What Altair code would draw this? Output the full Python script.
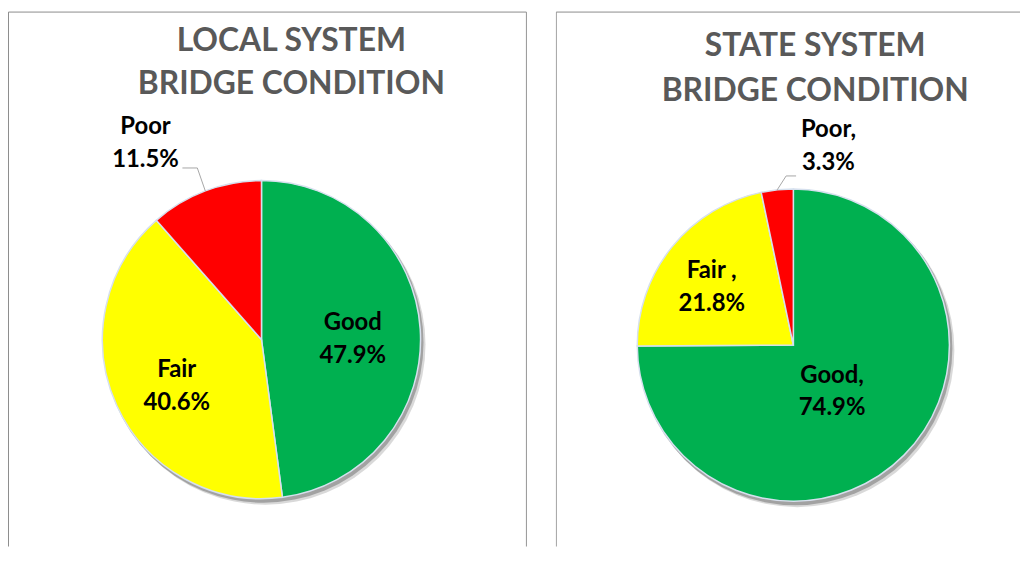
import altair as alt
import pandas as pd

categories = ["Good", "Fair", "Poor"]
local_values = [47.9, 40.6, 11.5]
state_values = [74.9, 21.8, 3.3]
local_labels = ["Good\n47.9%", "Fair\n40.6%", "Poor\n11.5%"]
state_labels = ["Good,\n74.9%", "Fair ,\n21.8%", "Poor,\n3.3%"]
colors = ["#00B050", "#FFFF00", "#FF0000"]
local_title = ["LOCAL SYSTEM", "BRIDGE CONDITION"]
state_title = ["STATE SYSTEM", "BRIDGE CONDITION"]

H = 540
FONT = "Lato"


def panel(values, labels, title, W, title_x, title_ys, cx, cy, R,
          label_specs, leader, show_right):
    df = pd.DataFrame({"cat": categories, "value": values,
                       "label": labels, "idx": list(range(len(categories)))})
    one = pd.DataFrame({"k": [0]})

    layers = []
    # panel border (bottom edge clipped away)
    layers.append(alt.Chart(one).mark_rect(
        filled=False, stroke="#8c8c8c", strokeWidth=1, clip=True).encode(
        x=alt.value(0.5), x2=alt.value(W - 0.5 if show_right else W + 20),
        y=alt.value(2.5), y2=alt.value(H + 30)))
    # soft shadow
    for off, op in [((4, 5), 0.15), ((2, 3), 0.25)]:
        layers.append(alt.Chart(one).mark_arc(
            theta=0, theta2=6.2832, radius=R + 1, color="#000000",
            opacity=op).encode(x=alt.value(cx + off[0]), y=alt.value(cy + off[1])))
    # pie
    layers.append(alt.Chart(df).mark_arc(
        radius=R, stroke="#d6e0ee", strokeWidth=1.5).encode(
        x=alt.value(cx), y=alt.value(cy),
        theta=alt.Theta("value:Q", stack=True),
        order=alt.Order("idx:Q"),
        color=alt.Color("cat:N", scale=alt.Scale(domain=categories, range=colors),
                        legend=None)))
    # labels
    for cat, (r, dx, dy) in label_specs.items():
        layers.append(alt.Chart(df).mark_text(
            radius=r, dx=dx, dy=dy, font=FONT, fontSize=24, fontWeight="bold",
            color="black", lineBreak="\n", lineHeight=33,
            align="center", baseline="middle").encode(
            x=alt.value(cx), y=alt.value(cy),
            theta=alt.Theta("value:Q", stack=True),
            order=alt.Order("idx:Q"),
            text=alt.condition(alt.datum.cat == cat, "label:N", alt.value(""))))
    # leader line for the small slice
    lcat, (kx, ky), (ex2, ey2) = leader
    lead = alt.Chart(df).transform_window(
        cum="sum(value)", sort=[alt.SortField("idx")], frame=[None, 0]
    ).transform_calculate(
        mid="(datum.cum - datum.value / 2) / 100 * 2 * PI"
    ).transform_calculate(
        ex=f"{cx} + {R} * sin(datum.mid)",
        ey=f"{cy} - {R} * cos(datum.mid)",
    ).transform_calculate(
        kx=f"datum.ex + ({kx})", ky=f"datum.ey + ({ky})",
        lx=f"datum.ex + ({ex2})", ly=f"datum.ey + ({ey2})",
    ).transform_filter(alt.datum.cat == lcat)
    layers.append(lead.mark_rule(color="#a6a6a6", strokeWidth=1).encode(
        x=alt.X("ex:Q", scale=None, axis=None), y=alt.Y("ey:Q", scale=None, axis=None),
        x2="kx:Q", y2="ky:Q"))
    layers.append(lead.mark_rule(color="#a6a6a6", strokeWidth=1).encode(
        x=alt.X("kx:Q", scale=None, axis=None), y=alt.Y("ky:Q", scale=None, axis=None),
        x2="lx:Q", y2="ly:Q"))
    # title
    for t, ty in zip(title, title_ys):
        layers.append(alt.Chart(one).mark_text(
            text=t, font=FONT, fontSize=32, fontWeight="bold", color="#595959",
            align="center", baseline="middle").encode(
            x=alt.value(title_x), y=alt.value(ty)))
    return alt.layer(*layers).properties(width=W, height=H)


left = panel(local_values, local_labels, local_title, 522, 285, [32, 75],
             255, 332, 160,
             {"Good": (92, 0, -10.5), "Fair": (97, 3, -9.5), "Poor": (200, -46, -26.5)},
             ("Poor", (-8, -23), (-23, -23)), True)
right = panel(state_values, state_labels, state_title, 467, 261, [37, 82],
              239, 337.5, 157,
              {"Good": (62, -5, -13), "Fair": (99, -5, -12), "Poor": (200, 56, -17)},
              ("Poor", (9, -14), (19, -14)), False)

chart = alt.hconcat(left, right, spacing=29, padding=0).configure_view(stroke=None)
chart.save("out.html", embed_options={"renderer": "svg", "actions": False})
